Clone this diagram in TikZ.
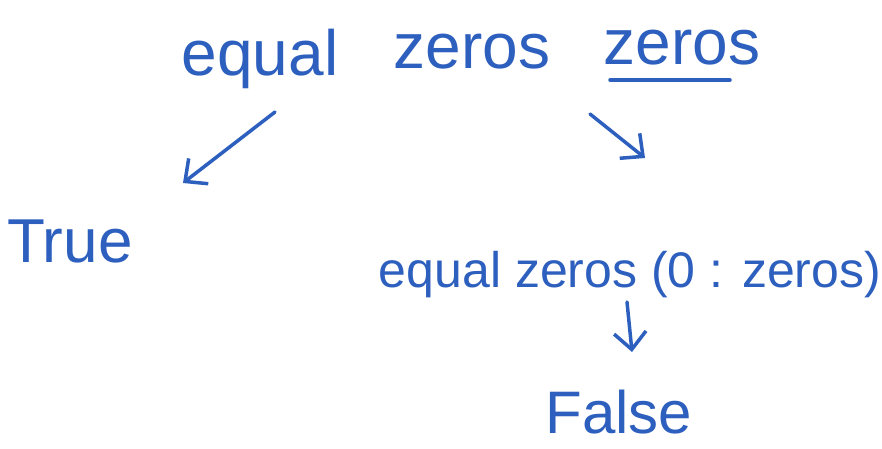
\documentclass[tikz,border=0pt]{standalone}
\usepackage{fontspec}
\setmainfont{Liberation Sans}
\usetikzlibrary{arrows.meta}
\definecolor{ink}{RGB}{45,95,190}
\begin{document}
\begin{tikzpicture}[x=1pt,y=-1pt,line width=3.5pt,line cap=round,line join=round]
	\useasboundingbox (0,0)rectangle(882,448);
	\fill[white](0,0)rectangle(882,448);
	\tikzset{word/.style={anchor=base,inner sep=0pt,text=ink}}
	\tikzset{hand/.style={draw=ink,-{Straight Barb[length=17pt,width=32pt,line width=3.5pt]}}}
	\path(260,75)node[word,font=\fontsize{64}{70}\selectfont](eq){equal}
	(472,68)node[word,font=\fontsize{64}{70}\selectfont](za){zeros}
	(682,64)node[word,font=\fontsize{64}{70}\selectfont](zb){zeros}
	(70,262)node[word,font=\fontsize{62}{68}\selectfont](tr){True}
	(630,287)node[word,font=\fontsize{50}{56}\selectfont](ez){equal zeros (0 : zeros)}
	(619,433)node[word,font=\fontsize{60}{66}\selectfont](fa){False};
	\draw[ink]([shift={(8,16)}]zb.base west)--([shift={(-32,16)}]zb.base east);
	\path([shift={(15,37)}]eq.base)coordinate(s1)
	([shift={(113,-79)}]tr.base)coordinate(e1)
	([shift={(118,46)}]za.base)coordinate(s2)
	([shift={(15,-129)}]ez.base)coordinate(e2)
	([shift={(-3,15)}]ez.base)coordinate(s3)
	([shift={(13,-81)}]fa.base)coordinate(e3);
	\foreach \s/\e in{s1/e1,s2/e2,s3/e3}
	\draw[hand](\s)--(\e);
\end{tikzpicture}
\end{document}
